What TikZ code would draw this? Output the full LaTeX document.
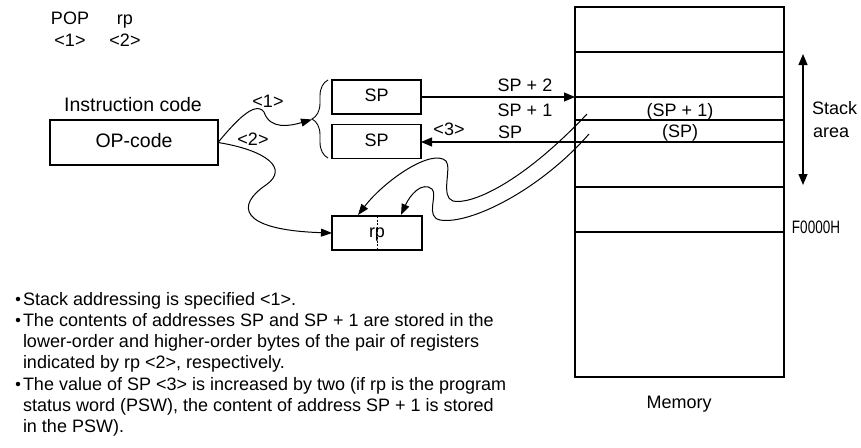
\documentclass[tikz,border=0pt]{standalone}
\usepackage{fontspec}
\setmainfont{Liberation Sans}
\usetikzlibrary{arrows.meta,decorations.pathreplacing}
\begin{document}
\begin{tikzpicture}[x=1pt,y=-1pt,
  every node/.style={font=\fontsize{18}{21}\selectfont, inner sep=0pt, outer sep=0pt},
  txt/.style={anchor=base},
  ltxt/.style={anchor=base west},
  box/.style={draw, line width=1.5pt, text height=13pt, text depth=4pt},
  arr/.style={-{Triangle[length=11pt,width=9pt]}, line width=1.1pt},
  wavy/.style={-{Triangle[length=11pt,width=8pt]}, line width=1pt},
  memline/.style={line width=1.4pt},
  bul/.style={fill, circle, minimum size=4.5pt}]
\useasboundingbox (0,0) rectangle (861,447);

% header
\node[txt] (pop) at (70,24.5) {POP};
\node[txt] (rpl) at (125,24.5) {rp};
\node[txt] (h1) at (70,46) {<1>};
\node[txt] (h2) at (125,46) {<2>};

% instruction
\node[txt, font=\fontsize{19.5}{22}\selectfont] (ic) at (133,111.5) {Instruction code};
\node[box, minimum width=168pt, minimum height=45pt, font=\fontsize{19.5}{22}\selectfont] (op) at (134,142.5) {OP-code};

% SP boxes
\node[box, minimum width=89pt, minimum height=34pt] (sp1) at (376.5,97) {SP};
\node[box, minimum width=89pt, minimum height=34pt] (sp2) at (376.5,141.5) {SP};
\draw[decorate, decoration={brace, amplitude=16pt}, line width=0.9pt] (328,158) -- (328,80);
\coordinate (bt) at (312,119.5);

% rp box
\node[box, minimum width=90pt, minimum height=34pt] (rp) at (377,233) {rp};
\draw[dashed, line width=0.7pt, dash pattern=on 2pt off 1.5pt] (rp.north) -- (rp.south);

% memory
\node[draw, line width=1.6pt, minimum width=209pt, minimum height=370pt] (mem) at (679.5,192) {};
\foreach \yy/\w in {52/1.4, 97/1.4, 120/2.2, 142/1.4, 187/1.4, 232/1.4}
  \draw[line width=\w pt] (mem.west |- 0,\yy) -- (mem.east |- 0,\yy);
\coordinate (m97) at (mem.west |- 0,97);
\coordinate (m142) at (mem.west |- 0,142);
\node[txt] (sp1c) at (680,116) {(SP + 1)};
\node[txt] (spc) at (680,137.5) {(SP)};

% stack area
\coordinate (sa1) at (803,54);
\coordinate (sa2) at (803,185);
\draw[{Triangle[length=11pt,width=9pt]}-{Triangle[length=11pt,width=9pt]}, line width=1.1pt] (sa1) -- (sa2);
\node[ltxt] (stk) at (812,114) {Stack};
\node[ltxt] (area) at (813,137) {area};
\node[txt] (f0) at (816,233.5) {\scalebox{0.75}[1]{F0000H}};
\node[txt] (memlab) at (679,408.5) {Memory};

% straight arrows
\draw[arr] (sp1.east) -- (m97);
\draw[arr] (m142) -- (sp2.east |- m142);
\node[txt] (l2) at (525,91.5) {SP + 2};
\node[txt] (l1) at (525,116.5) {SP + 1};
\node[ltxt] (l0) at (498,138.5) {SP};
\node[txt] (l3) at (449,135.5) {<3>};

% curved arrows from OP-code
\draw[wavy] (op.east) .. controls (235,122) and (255,100) .. (264,112)
   .. controls (270,130) and (290,126) .. (bt);
\node[txt] (c1) at (268,107) {<1>};
\draw[wavy] (op.east) .. controls (265,150) and (290,168) .. (266,185)
   .. controls (236,205) and (238,230) .. (rp.west);
\node[txt] (c2) at (253,145.5) {<2>};

% curved arrows from memory to rp
\coordinate (ma) at (587,114);
\coordinate (mb) at (589,134);
\coordinate (ra) at (358,215);
\coordinate (rb) at (401,215);
\draw[wavy] (ma) .. controls (520,185) and (470,205) .. (453,201)
   .. controls (440,197) and (452,168) .. (446,161)
   .. controls (432,148) and (385,180) .. (ra);
\draw[wavy] (mb) .. controls (540,190) and (470,225) .. (440,220)
   .. controls (425,217) and (438,195) .. (432,189)
   .. controls (422,181) and (410,195) .. (rb);

% bullet text
\foreach \yy in {299,320,384}
  \node[bul] at (18,\yy) {};
\node[ltxt] (t1) at (23,305.5) {Stack addressing is specified <1>.};
\node[ltxt] (t2) at (23,326.5) {The contents of addresses SP and SP + 1 are stored in the};
\node[ltxt] (t3) at (23,347.5) {lower-order and higher-order bytes of the pair of registers};
\node[ltxt] (t4) at (23,368.5) {indicated by rp <2>, respectively.};
\node[ltxt] (t5) at (23,390.5) {The value of SP <3> is increased by two (if rp is the program};
\node[ltxt] (t6) at (23,411.5) {status word (PSW), the content of address SP + 1 is stored};
\node[ltxt] (t7) at (23,432.5) {in the PSW).};
\end{tikzpicture}
\end{document}
